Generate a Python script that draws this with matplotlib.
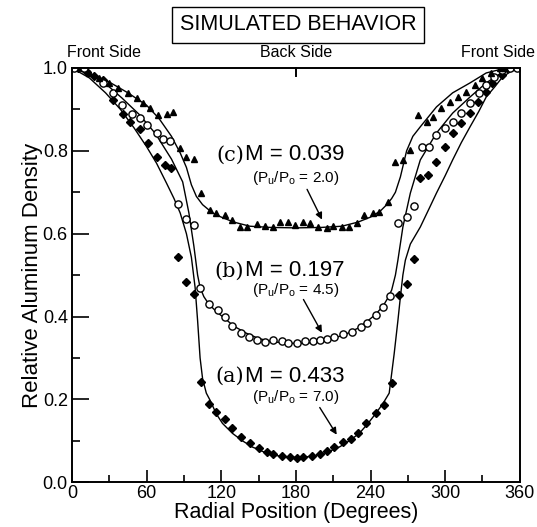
# -*- coding: utf-8 -*-
"""Simulated aluminum density vs radial position."""

import matplotlib.pyplot as plt
from matplotlib.ticker import MultipleLocator

# measured points, (a) M = 0.433
deg_a = [5, 12, 18, 25, 33, 41, 47, 55, 61, 68, 75, 80, 85, 92, 98, 104, 110,
         116, 123, 129, 136, 143, 150, 157, 162, 169, 175, 181, 186, 193, 199,
         205, 211, 218, 224, 230, 236, 244, 251, 257, 263, 269, 275, 280, 286,
         293, 300, 306, 313, 320, 326, 333, 338, 346, 350]
val_a = [1.0, 0.99, 0.98, 0.971, 0.923, 0.89, 0.87, 0.853, 0.82, 0.785, 0.766,
         0.758, 0.543, 0.483, 0.455, 0.242, 0.19, 0.17, 0.152, 0.13, 0.109,
         0.094, 0.082, 0.073, 0.067, 0.063, 0.06, 0.058, 0.06, 0.063, 0.067,
         0.075, 0.085, 0.097, 0.104, 0.118, 0.143, 0.167, 0.186, 0.239, 0.452,
         0.478, 0.539, 0.734, 0.741, 0.773, 0.809, 0.843, 0.867, 0.891, 0.918,
         0.942, 0.964, 0.983, 1.0]

# measured points, (b) M = 0.197
deg_b = [2, 10, 25, 33, 40, 48, 55, 60, 68, 73, 79, 85, 92, 98, 103, 110, 117,
         123, 129, 136, 142, 149, 155, 162, 169, 174, 181, 187, 194, 199, 205,
         211, 218, 225, 232, 237, 244, 250, 256, 262, 269, 275, 281, 287, 293,
         300, 306, 313, 320, 327, 333, 339, 346, 352, 358]
val_b = [1.0, 1.0, 0.963, 0.94, 0.91, 0.89, 0.88, 0.862, 0.843, 0.828, 0.824,
         0.672, 0.636, 0.622, 0.469, 0.431, 0.415, 0.398, 0.377, 0.36, 0.35,
         0.344, 0.339, 0.343, 0.341, 0.336, 0.336, 0.341, 0.341, 0.343, 0.345,
         0.35, 0.357, 0.362, 0.374, 0.384, 0.403, 0.423, 0.449, 0.625, 0.64,
         0.667, 0.809, 0.809, 0.838, 0.855, 0.87, 0.891, 0.915, 0.94, 0.959,
         0.978, 0.995, 1.0, 1.0]

# measured points, (c) M = 0.039
deg_c = [14, 22, 30, 37, 45, 52, 57, 63, 69, 76, 81, 87, 92, 98, 104, 111, 116,
         123, 129, 135, 141, 149, 155, 162, 167, 174, 179, 186, 191, 198, 205,
         210, 217, 223, 229, 235, 242, 247, 254, 260, 266, 272, 278, 285, 290,
         297, 304, 310, 317, 324, 330, 337, 344, 348]
val_c = [0.988, 0.976, 0.963, 0.952, 0.94, 0.928, 0.915, 0.903, 0.886, 0.89,
         0.894, 0.807, 0.785, 0.78, 0.698, 0.657, 0.65, 0.645, 0.633, 0.616,
         0.616, 0.624, 0.618, 0.616, 0.628, 0.628, 0.621, 0.628, 0.626, 0.616,
         0.613, 0.618, 0.616, 0.616, 0.626, 0.645, 0.65, 0.652, 0.676, 0.773,
         0.778, 0.802, 0.886, 0.87, 0.882, 0.903, 0.918, 0.93, 0.942, 0.959,
         0.976, 0.988, 1.0, 1.0]

# model curves
cdeg_a = [0, 14, 27, 39, 50, 60, 68, 76, 82, 87, 92, 96, 99, 101, 103, 105, 108,
          111, 116, 121, 129, 137, 145, 155, 165, 172, 180, 188, 195, 205, 215,
          223, 231, 238, 244, 250, 255, 259, 262, 264, 266, 268, 272, 280, 287,
          293, 300, 306, 313, 320, 327, 333, 340, 346, 353, 360]
cval_a = [1.0, 0.976, 0.94, 0.9, 0.855, 0.81, 0.77, 0.722, 0.685, 0.65, 0.6,
          0.543, 0.47, 0.39, 0.3, 0.25, 0.215, 0.198, 0.165, 0.142, 0.118, 0.1,
          0.085, 0.072, 0.064, 0.061, 0.06, 0.061, 0.064, 0.072, 0.085, 0.1,
          0.118, 0.142, 0.165, 0.19, 0.215, 0.31, 0.39, 0.447, 0.5, 0.536,
          0.575, 0.616, 0.66, 0.698, 0.74, 0.778, 0.82, 0.858, 0.895, 0.93,
          0.955, 0.978, 0.992, 1.0]

cdeg_b = [0, 14, 27, 40, 54, 67, 80, 89, 94, 98, 101, 103, 106, 110, 116, 123,
          130, 140, 150, 160, 170, 180, 190, 200, 210, 220, 230, 238, 244, 250,
          254, 257, 260, 262, 266, 272, 280, 293, 306, 320, 333, 346, 360]
cval_b = [1.0, 0.985, 0.962, 0.928, 0.888, 0.842, 0.78, 0.725, 0.65, 0.57, 0.5,
          0.47, 0.448, 0.43, 0.412, 0.395, 0.377, 0.36, 0.347, 0.34, 0.336,
          0.335, 0.336, 0.34, 0.347, 0.357, 0.372, 0.39, 0.405, 0.425, 0.445,
          0.464, 0.5, 0.536, 0.616, 0.698, 0.778, 0.843, 0.891, 0.93, 0.964,
          0.99, 1.0]

cdeg_c = [0, 15, 30, 45, 60, 70, 80, 87, 92, 96, 100, 105, 113, 120, 130, 143,
          160, 180, 200, 217, 230, 240, 248, 253, 257, 260, 264, 269, 274, 280,
          293, 306, 320, 333, 345, 360]
cval_c = [1.0, 0.986, 0.966, 0.94, 0.91, 0.878, 0.835, 0.795, 0.76, 0.718,
          0.69, 0.67, 0.65, 0.64, 0.628, 0.618, 0.615, 0.614, 0.615, 0.618,
          0.628, 0.64, 0.655, 0.67, 0.685, 0.7, 0.737, 0.8, 0.835, 0.858, 0.906,
          0.94, 0.964, 0.988, 0.997, 1.0]


def main():
    plt.rcParams['font.family'] = ['Liberation Sans', 'DejaVu Sans']

    fig = plt.figure(figsize=(5.37, 5.27), dpi=100)
    ax = fig.add_axes([0.134, 0.085, 0.834, 0.786])

    ax.plot(cdeg_a, cval_a, color='black', lw=1.0)
    ax.plot(cdeg_b, cval_b, color='black', lw=1.0)
    ax.plot(cdeg_c, cval_c, color='black', lw=1.0)

    ax.plot(deg_a, val_a, 'D', color='black', ms=4.2, ls='none')
    ax.plot(deg_b, val_b, 'o', mfc='white', mec='black', mew=1.0, ms=5.2,
            ls='none')
    ax.plot(deg_c, val_c, '^', color='black', ms=5.0, ls='none')

    ax.set_xlim(0, 360)
    ax.set_ylim(0, 1.0)
    ax.xaxis.set_major_locator(MultipleLocator(60))
    ax.xaxis.set_minor_locator(MultipleLocator(30))
    ax.yaxis.set_major_locator(MultipleLocator(0.2))
    ax.yaxis.set_minor_locator(MultipleLocator(0.1))
    ax.yaxis.set_major_formatter(plt.FuncFormatter(lambda v, p: "%.1f" % v))
    ax.tick_params(axis='both', which='both', direction='in', top=False,
                   right=False, labelsize=13, width=1.2)
    ax.tick_params(axis='y', which='major', length=12, pad=3)
    ax.tick_params(axis='y', which='minor', length=6)
    ax.tick_params(axis='x', which='major', length=9, pad=2)
    ax.tick_params(axis='x', which='minor', length=5)
    for s in ax.spines.values():
        s.set_linewidth(1.4)

    # back side marker on the top axis
    ax.plot([180, 180], [1.0, 0.98], color='black', lw=1.4, clip_on=False)

    ax.set_xlabel("Radial Position (Degrees)", fontsize=15.5, labelpad=0)
    ax.set_ylabel("Relative Aluminum Density", fontsize=16, labelpad=0)

    ax.text(-4, 1.02, "Front Side", fontsize=11.5, ha='left', va='bottom')
    ax.text(180, 1.02, "Back Side", fontsize=11.5, ha='center', va='bottom')
    ax.text(372, 1.02, "Front Side", fontsize=11.5, ha='right', va='bottom')

    fig.text(0.555, 0.953, "SIMULATED BEHAVIOR", fontsize=15.5, ha='center',
             va='center',
             bbox=dict(boxstyle='square,pad=0.35', fc='white', ec='black',
                       lw=1.0))

    # case labels
    labels = [("(c)", "M = 0.039", "2.0", 0.79, 0.734,
               (188, 0.713), (202, 0.628)),
              ("(b)", "M = 0.197", "4.5", 0.51, 0.464,
               (185, 0.447), (202, 0.355)),
              ("(a)", "M = 0.433", "7.0", 0.256, 0.205,
               (198, 0.186), (214, 0.109))]
    for tag, mtxt, ratio, y1, y2, start, end in labels:
        ax.text(138.5, y1, tag, fontsize=15, family='serif', ha='right',
                va='center')
        ax.text(139, y1, mtxt, fontsize=16, ha='left', va='center')
        ax.text(145, y2, r"(P$_\mathregular{u}$/P$_\mathregular{o}$ = %s)"
                % ratio, fontsize=11, ha='left', va='center')
        ax.annotate("", xy=end, xytext=start,
                    arrowprops=dict(arrowstyle='-|>', color='black', lw=1.0,
                                    mutation_scale=10))

    fig.savefig("out.png", dpi=100)


if __name__ == "__main__":
    main()
